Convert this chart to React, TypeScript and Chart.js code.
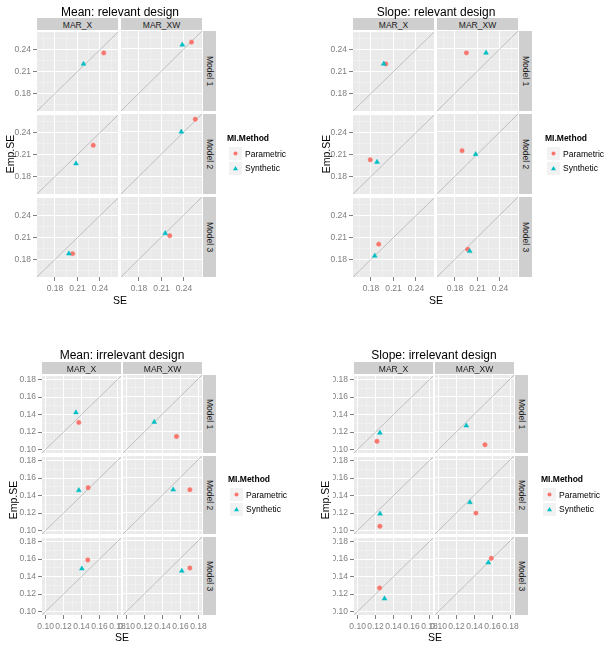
import React, { useEffect, useRef } from "react";
import { Chart, registerables } from "chart.js";
Chart.register(...registerables);

const FONT = '"Liberation Sans", Arial, Helvetica, sans-serif';

// ---------- categories ----------
const facetColumns = ["MAR_X", "MAR_XW"];
const facetRows = ["Model 1", "Model 2", "Model 3"];
const methods = ["Parametric", "Synthetic"];
const methodColors = ["#F8766D", "#00BFC4"];
const methodShapes = ["circle", "triangle"];

// ---------- tick labels / axis limits ----------
const relevantMajorTicks = [0.18, 0.21, 0.24];
const relevantMinorTicks = [0.165, 0.195, 0.225, 0.255];
const relevantLimits = [0.156, 0.264];
const irrelevantMajorTicks = [0.1, 0.12, 0.14, 0.16, 0.18];
const irrelevantMinorTicks = [0.11, 0.13, 0.15, 0.17];
const irrelevantLimits = [0.096, 0.184];

// ---------- data: panel order M1/MAR_X, M1/MAR_XW, M2/MAR_X, M2/MAR_XW, M3/MAR_X, M3/MAR_XW ----------
const meanRelParamSE = [0.245, 0.25, 0.231, 0.255, 0.2035, 0.221];
const meanRelParamEmp = [0.2355, 0.249, 0.2227, 0.257, 0.188, 0.2118];
const meanRelSynthSE = [0.218, 0.2377, 0.208, 0.2364, 0.1985, 0.215];
const meanRelSynthEmp = [0.2204, 0.2454, 0.1977, 0.24, 0.188, 0.215];

const slopeRelParamSE = [0.1997, 0.1952, 0.179, 0.1894, 0.1903, 0.197];
const slopeRelParamEmp = [0.2205, 0.2345, 0.2028, 0.2145, 0.201, 0.1934];
const slopeRelSynthSE = [0.197, 0.2214, 0.188, 0.2075, 0.185, 0.1997];
const slopeRelSynthEmp = [0.2205, 0.2345, 0.1997, 0.2096, 0.185, 0.1908];

const meanIrrParamSE = [0.137, 0.1556, 0.1474, 0.1705, 0.147, 0.1705];
const meanIrrParamEmp = [0.131, 0.1147, 0.149, 0.146, 0.159, 0.149];
const meanIrrSynthSE = [0.1338, 0.1308, 0.137, 0.1519, 0.1404, 0.1615];
const meanIrrSynthEmp = [0.1423, 0.131, 0.146, 0.146, 0.149, 0.1457];

const slopeIrrParamSE = [0.1216, 0.1517, 0.1248, 0.1416, 0.1245, 0.1587];
const slopeIrrParamEmp = [0.1094, 0.1053, 0.1049, 0.1196, 0.127, 0.16];
const slopeIrrSynthSE = [0.1248, 0.1309, 0.125, 0.1349, 0.13, 0.1554];
const slopeIrrSynthEmp = [0.119, 0.1268, 0.1192, 0.1317, 0.1147, 0.1551];

// ---------- layout ----------
const PL = 40; // room for y tick labels
const PT = 6;
const PR = 14;
const PB = 22; // room for x tick labels

type Fig = {
  title: string;
  se: number[][];
  emp: number[][];
  majors: number[];
  minors: number[];
  limits: number[];
  colLefts: number[];
  colW: number;
  rowTops: number[];
  rowH: number;
  stripTop: number;
  stripRightX: number;
  titleX: number;
  titleY: number;
  seX: number;
  seY: number;
  empX: number;
  empY: number;
  legX: number;
  legY: number;
  clipX: number | null;
};

const figures: Fig[] = [
  {
    title: "Mean: relevant design",
    se: [meanRelParamSE, meanRelSynthSE],
    emp: [meanRelParamEmp, meanRelSynthEmp],
    majors: relevantMajorTicks, minors: relevantMinorTicks, limits: relevantLimits,
    colLefts: [37, 121], colW: 81, rowTops: [31, 114, 197], rowH: 80,
    stripTop: 18, stripRightX: 203,
    titleX: 120, titleY: 11.5, seX: 120, seY: 300, empX: 10, empY: 154,
    legX: 227, legY: 138, clipX: null,
  },
  {
    title: "Slope: relevant design",
    se: [slopeRelParamSE, slopeRelSynthSE],
    emp: [slopeRelParamEmp, slopeRelSynthEmp],
    majors: relevantMajorTicks, minors: relevantMinorTicks, limits: relevantLimits,
    colLefts: [353, 437], colW: 81, rowTops: [31, 114, 197], rowH: 80,
    stripTop: 18, stripRightX: 519,
    titleX: 436, titleY: 11.5, seX: 436, seY: 300, empX: 326, empY: 154,
    legX: 545, legY: 138, clipX: null,
  },
  {
    title: "Mean: irrelevant design",
    se: [meanIrrParamSE, meanIrrSynthSE],
    emp: [meanIrrParamEmp, meanIrrSynthEmp],
    majors: irrelevantMajorTicks, minors: irrelevantMinorTicks, limits: irrelevantLimits,
    colLefts: [42, 123], colW: 79, rowTops: [375, 456, 537], rowH: 78,
    stripTop: 362, stripRightX: 203,
    titleX: 122, titleY: 355, seX: 122, seY: 637, empX: 12.5, empY: 500,
    legX: 228, legY: 479, clipX: 17.5,
  },
  {
    title: "Slope: irrelevant design",
    se: [slopeIrrParamSE, slopeIrrSynthSE],
    emp: [slopeIrrParamEmp, slopeIrrSynthEmp],
    majors: irrelevantMajorTicks, minors: irrelevantMinorTicks, limits: irrelevantLimits,
    colLefts: [354, 435], colW: 79, rowTops: [375, 456, 537], rowH: 78,
    stripTop: 362, stripRightX: 515,
    titleX: 434, titleY: 355, seX: 435, seY: 637, empX: 325, empY: 500,
    legX: 541, legY: 479, clipX: 333,
  },
];

const panelBg = {
  id: "panelBg",
  beforeDraw(chart: any) {
    const { ctx, chartArea } = chart;
    if (!chartArea) return;
    ctx.save();
    ctx.fillStyle = "#EAEAEA";
    ctx.fillRect(chartArea.left, chartArea.top, chartArea.right - chartArea.left, chartArea.bottom - chartArea.top);
    ctx.restore();
  },
};

type PanelProps = {
  left: number; top: number; width: number; height: number;
  showX: boolean; showY: boolean;
  limits: number[]; majors: number[]; minors: number[];
  xs: number[]; ys: number[];
  clipX: number | null;
};

function Panel(p: PanelProps) {
  const ref = useRef<HTMLCanvasElement>(null);
  const cw = p.width + PL + PR;
  const ch = p.height + PT + PB;
  const cLeft = p.left - PL;
  const cTop = p.top - PT;
  useEffect(() => {
    const canvas = ref.current!;
    const isMajor = (v: number) => p.majors.some((m) => Math.abs(m - v) < 1e-9);
    const allTicks = [...p.majors, ...p.minors].sort((a, b) => a - b);
    const axis = (isX: boolean) => {
      const show = isX ? p.showX : p.showY;
      return {
        type: "linear" as const,
        min: p.limits[0],
        max: p.limits[1],
        display: true,
        afterBuildTicks: (s: any) => {
          s.ticks = allTicks.map((v) => ({ value: v }));
        },
        afterFit: (s: any) => {
          if (isX) s.height = show ? PB : 0;
          else s.width = show ? PL : 0;
        },
        grid: {
          color: (c: any) => (c.tick && isMajor(c.tick.value) ? "#FFFFFF" : "#F4F4F4"),
          lineWidth: (c: any) => (c.tick && isMajor(c.tick.value) ? 1 : 0.6),
          drawTicks: show,
          tickLength: 4,
          tickWidth: 1,
          tickColor: (c: any) => (c.tick && isMajor(c.tick.value) ? "#7F7F7F" : "rgba(0,0,0,0)"),
        },
        border: { display: false },
        ticks: {
          display: show,
          autoSkip: false,
          maxRotation: 0,
          minRotation: 0,
          padding: isX ? 3 : 2,
          color: "#7F7F7F",
          font: { family: FONT, size: 8.5 },
          callback: (v: any) => (isMajor(Number(v)) ? Number(v).toFixed(2) : ""),
        },
      };
    };
    const datasets: any[] = [
      {
        label: "diagonal",
        data: [
          { x: p.limits[0], y: p.limits[0] },
          { x: p.limits[1], y: p.limits[1] },
        ],
        showLine: true,
        borderColor: "rgba(130,130,130,0.7)",
        borderWidth: 0.6,
        pointRadius: 0,
        order: 3,
      },
    ];
    methods.forEach((m, i) => {
      datasets.push({
        label: m,
        data: [{ x: p.xs[i], y: p.ys[i] }],
        pointStyle: methodShapes[i],
        pointRadius: i === 0 ? 2.2 : 2.8,
        backgroundColor: methodColors[i],
        borderColor: methodColors[i],
        borderWidth: 0.5,
        order: 2 - i,
      });
    });
    const chart = new Chart(canvas, {
      type: "scatter",
      data: { datasets },
      options: {
        animation: false,
        responsive: false,
        devicePixelRatio: 1,
        events: [],
        layout: {
          padding: {
            left: p.showY ? 0 : PL,
            right: PR,
            top: PT,
            bottom: p.showX ? 0 : PB,
          },
        },
        plugins: { legend: { display: false }, tooltip: { enabled: false } },
        scales: { x: axis(true) as any, y: axis(false) as any },
      },
      plugins: [panelBg],
    });
    return () => chart.destroy();
  }, []);
  const clip = p.clipX != null && p.clipX > cLeft ? `inset(0px 0px 0px ${p.clipX - cLeft}px)` : undefined;
  return (
    <canvas
      ref={ref}
      width={cw}
      height={ch}
      style={{ position: "absolute", left: cLeft, top: cTop, width: cw, height: ch, clipPath: clip }}
    />
  );
}

function Txt(props: {
  x: number; y: number; size: number; children: any; color?: string; weight?: string; rotate?: number; align?: string;
}) {
  const tx = props.align === "left" ? "0" : "-50%";
  return (
    <div
      style={{
        position: "absolute",
        left: props.x,
        top: props.y,
        transform: `translate(${tx},-50%) rotate(${props.rotate || 0}deg)`,
        fontFamily: FONT,
        fontSize: props.size,
        color: props.color || "#000",
        fontWeight: (props.weight as any) || "normal",
        whiteSpace: "nowrap",
        lineHeight: 1,
      }}
    >
      {props.children}
    </div>
  );
}

function Figure({ f }: { f: Fig }) {
  const items: any[] = [];
  const stripH = f.rowTops[0] - 1 - f.stripTop;
  // top strips
  facetColumns.forEach((c, ci) => {
    items.push(
      <div
        key={"cs" + ci}
        style={{ position: "absolute", left: f.colLefts[ci], top: f.stripTop, width: f.colW, height: stripH, background: "#CFCFCF" }}
      />
    );
    items.push(
      <Txt key={"ct" + ci} x={f.colLefts[ci] + f.colW / 2} y={f.stripTop + stripH / 2 + 0.5} size={8.5} color="#1A1A1A">
        {c}
      </Txt>
    );
  });
  // right strips
  facetRows.forEach((r, ri) => {
    items.push(
      <div
        key={"rs" + ri}
        style={{ position: "absolute", left: f.stripRightX, top: f.rowTops[ri], width: 13, height: f.rowH, background: "#CFCFCF" }}
      />
    );
    items.push(
      <Txt key={"rt" + ri} x={f.stripRightX + 6.5} y={f.rowTops[ri] + f.rowH / 2} size={8.5} color="#1A1A1A" rotate={90}>
        {r}
      </Txt>
    );
  });
  // panels
  facetRows.forEach((_, ri) => {
    facetColumns.forEach((_, ci) => {
      const k = ri * 2 + ci;
      items.push(
        <Panel
          key={"p" + k}
          left={f.colLefts[ci]}
          top={f.rowTops[ri]}
          width={f.colW}
          height={f.rowH}
          showX={ri === facetRows.length - 1}
          showY={ci === 0}
          limits={f.limits}
          majors={f.majors}
          minors={f.minors}
          xs={[f.se[0][k], f.se[1][k]]}
          ys={[f.emp[0][k], f.emp[1][k]]}
          clipX={f.clipX}
        />
      );
    });
  });
  // titles
  items.push(<Txt key="title" x={f.titleX} y={f.titleY} size={12}>{f.title}</Txt>);
  items.push(<Txt key="se" x={f.seX} y={f.seY} size={10.5}>SE</Txt>);
  items.push(<Txt key="emp" x={f.empX} y={f.empY} size={10.5} rotate={-90}>Emp.SE</Txt>);
  // legend
  items.push(
    <Txt key="lt" x={f.legX} y={f.legY} size={8.5} weight="bold" align="left">MI.Method</Txt>
  );
  methods.forEach((m, i) => {
    const cy = f.legY + 15.5 + i * 14.5;
    items.push(
      <div
        key={"lk" + i}
        style={{ position: "absolute", left: f.legX + 2, top: cy - 6.5, width: 13, height: 13, background: "#F2F2F2" }}
      />
    );
    items.push(
      <svg key={"ls" + i} width={13} height={13} style={{ position: "absolute", left: f.legX + 2, top: cy - 6.5 }}>
        {i === 0 ? (
          <circle cx={6.5} cy={6.5} r={2} fill={methodColors[i]} />
        ) : (
          <polygon points="6.5,4 9,8.3 4,8.3" fill={methodColors[i]} />
        )}
      </svg>
    );
    items.push(
      <Txt key={"ll" + i} x={f.legX + 18} y={cy} size={8.5} align="left">{m}</Txt>
    );
  });
  return <>{items}</>;
}

export default function App() {
  return (
    <div style={{ position: "absolute", left: 0, top: 0, width: 608, height: 663, background: "#FFFFFF", overflow: "hidden" }}>
      {figures.map((f, i) => (
        <Figure key={i} f={f} />
      ))}
    </div>
  );
}
